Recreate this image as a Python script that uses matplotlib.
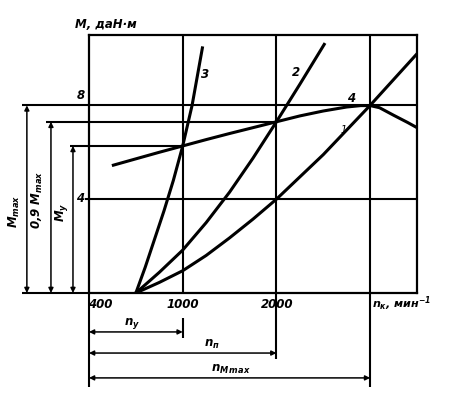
import matplotlib.pyplot as plt

plt.rcParams['font.family'] = 'DejaVu Sans'
plt.rcParams['mathtext.fontset'] = 'custom'
plt.rcParams['mathtext.it'] = 'DejaVu Sans:italic:bold'
plt.rcParams['mathtext.rm'] = 'DejaVu Sans:italic:bold'
plt.rcParams['mathtext.default'] = 'it'

# characteristic 4 - engine torque
n_torque = [260, 500, 750, 1000, 1250, 1500, 1750, 2000, 2250, 2500, 2750, 2900,
            3000, 3100, 3250, 3400, 3500]
M_torque = [5.45, 5.72, 6.0, 6.27, 6.54, 6.8, 7.05, 7.3, 7.55, 7.76, 7.93, 7.99,
            7.99, 7.9, 7.58, 7.27, 7.05]

# resistance curves 1, 2, 3
n_1 = [500, 750, 1000, 1250, 1500, 1750, 2000, 2250, 2500, 2750, 3000, 3250, 3500]
M_1 = [0, 0.45, 0.95, 1.6, 2.35, 3.15, 4.0, 4.95, 5.9, 6.95, 8.0, 9.1, 10.2]
n_2 = [500, 750, 1000, 1250, 1500, 1750, 2000, 2250, 2510]
M_2 = [0, 0.88, 1.83, 3.0, 4.3, 5.75, 7.3, 8.9, 10.6]
n_3 = [500, 600, 700, 800, 900, 1000, 1100, 1210]
M_3 = [0, 1.1, 2.3, 3.5, 4.8, 6.27, 8.0, 10.45]

M_max = 8.0
M_09 = 7.3
M_y = 6.27
n_y = 1000
n_p = 2000
n_Mmax = 3000

fig = plt.figure(figsize=(4.49, 3.99), dpi=100)
ax = fig.add_axes([89 / 449, (399 - 293) / 399, (417 - 89) / 449, (293 - 35) / 399])
ax.set_xlim(0, 3500)
ax.set_ylim(0, 11)
ax.set_xticks([])
ax.set_yticks([])
for s in ax.spines.values():
    s.set_linewidth(1.6)

k = dict(color='k', lw=1.5, clip_on=False, solid_capstyle='butt')

# grid lines inside the box
for x in [n_y, n_p, n_Mmax]:
    ax.plot([x, x], [0, 11], **k)
ax.plot([-40, 3500], [4, 4], **k)
ax.plot([-720, 3500], [M_max, M_max], **k)
ax.plot([-720, 0], [0, 0], **k)
ax.plot([-460, n_p], [M_09, M_09], **k)
ax.plot([-200, n_y], [M_y, M_y], **k)

# extension lines below the axis
ax.plot([0, 0], [0, -4.0], **k)
ax.plot([n_y, n_y], [-1.07, -1.9], **k)
ax.plot([n_p, n_p], [0, -2.8], **k)
ax.plot([n_Mmax, n_Mmax], [0, -4.0], **k)

# curves
c = dict(color='k', lw=2.2, solid_joinstyle='round')
ax.plot(n_torque, M_torque, **c)
ax.plot(n_1, M_1, **c)
ax.plot(n_2, M_2, **c)
ax.plot(n_3, M_3, **c)


def dim(x1, y1, x2, y2):
    ax.annotate('', xy=(x1, y1), xytext=(x2, y2),
                arrowprops=dict(arrowstyle='<|-|>', lw=1.1, color='k',
                                mutation_scale=7, shrinkA=0, shrinkB=0),
                annotation_clip=False)


dim(-663, 0, -663, M_max)
dim(-406, 0, -406, M_09)
dim(-171, 0, -171, M_y)
dim(0, -1.66, n_y, -1.66)
dim(0, -2.56, n_p, -2.56)
dim(0, -3.62, n_Mmax, -3.62)

t = dict(fontsize=8.5, fontstyle='italic', fontweight='bold', clip_on=False)
ax.text(-150, 11.43, 'M, даН·м', ha='left', va='center', **t)
ax.text(-90, 8.4, '8', ha='center', va='center', **t)
ax.text(-96, 4.05, '4', ha='center', va='center', **t)
ax.text(118, -0.47, '400', ha='center', va='center', **t)
ax.text(1000, -0.47, '1000', ha='center', va='center', **t)
ax.text(2010, -0.47, '2000', ha='center', va='center', **t)
ax.text(3020, -0.45, r'$n_{к}$, мин$^{-1}$', ha='left', va='center',
        fontsize=8, fontstyle='italic', fontweight='bold', clip_on=False)

ax.text(1235, 9.3, '3', ha='center', va='center', **t)
ax.text(2205, 9.38, '2', ha='center', va='center', **t)
ax.text(2800, 8.3, '4', ha='center', va='center', **t)
ax.text(2720, 6.95, '1', ha='center', va='center', fontsize=7, fontstyle='italic', clip_on=False)

ax.text(-791, 3.5, r'$M_{max}$', ha='center', va='center', rotation=90, **t)
ax.text(-545, 3.95, r'0,9 $M_{max}$', ha='center', va='center', rotation=90, **t)
ax.text(-289, 3.45, r'$M_{у}$', ha='center', va='center', rotation=90, **t)

ax.text(460, -1.28, r'$n_{у}$', ha='center', va='center', **t)
ax.text(1316, -2.2, r'$n_{п}$', ha='center', va='center', **t)
ax.text(1508, -3.28, r'$n_{M\,max}$', ha='center', va='center', **t)

fig.savefig('out.png', dpi=100)
